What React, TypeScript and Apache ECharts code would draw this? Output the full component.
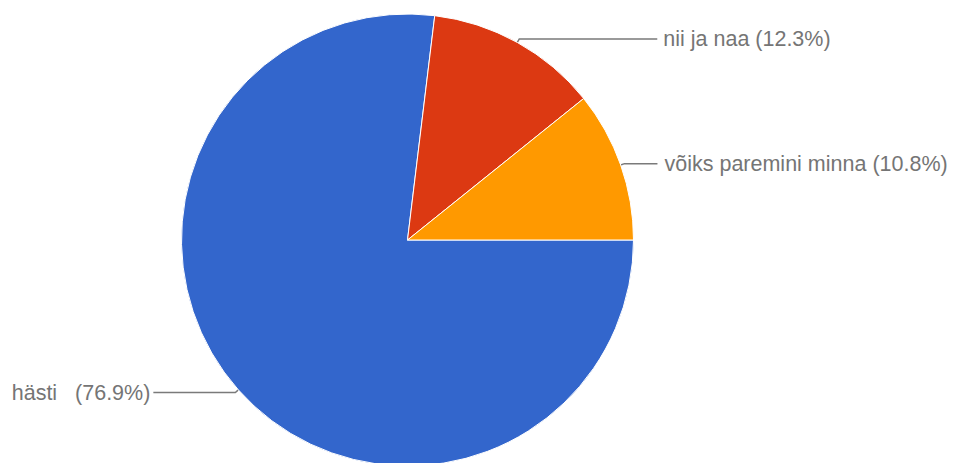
import React, { useEffect, useRef } from "react";
import * as echarts from "echarts";

const categories = ["hästi\u00a0\u00a0", "nii ja naa", "võiks paremini minna"];
const counts = [50, 8, 7];
const colors = ["#3366cc", "#dc3912", "#ff9900"];
const lineLength2 = [82, 138, 33];
const labelGap = [3, 6, 7];

export default function App() {
  const ref = useRef<HTMLDivElement>(null);
  useEffect(() => {
    if (!ref.current) return;
    const chart = echarts.init(ref.current, null, { renderer: "svg" });
    const total = counts.reduce((a, b) => a + b, 0);
    chart.setOption({
      animation: false,
      backgroundColor: "#ffffff",
      series: [
        {
          type: "pie",
          center: [407.5, 240],
          radius: 226,
          startAngle: 0,
          clockwise: true,
          avoidLabelOverlap: false,
          itemStyle: { borderColor: "#ffffff", borderWidth: 1 },
          label: {
            show: true,
            position: "outside",
            color: "#757575",
            fontSize: 21.5,
            fontFamily: "Arial, 'Liberation Sans', Helvetica, sans-serif",
            formatter: (p: any) =>
              `${p.name} (${((p.value / total) * 100).toFixed(1)}%)`,
          },
          labelLine: {
            show: true,
            length: 4,
            smooth: false,
            lineStyle: { color: "#7a7a7a", width: 1.5 },
          },
          emphasis: { disabled: true },
          data: categories.map((name, i) => ({
            name,
            value: counts[i],
            itemStyle: { color: colors[i] },
            labelLine: { length2: lineLength2[i] },
            label: { distanceToLabelLine: labelGap[i] },
          })),
        },
      ],
    });
    return () => chart.dispose();
  }, []);
  return (
    <div
      ref={ref}
      style={{ position: "absolute", left: 0, top: 0, width: 957, height: 463 }}
    />
  );
}
